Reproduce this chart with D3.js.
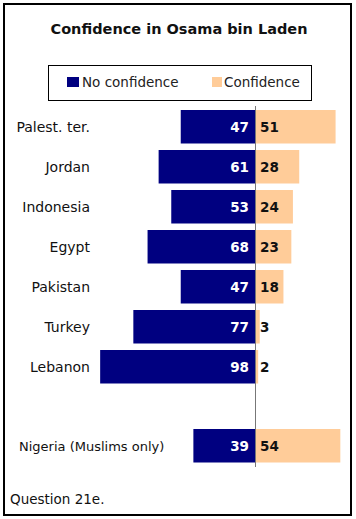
<!DOCTYPE html>
<html><head><meta charset="utf-8">
<script src="https://cdn.jsdelivr.net/npm/d3@7"></script>
<style>body{margin:0;background:#fff}svg{display:block}</style>
</head><body>
<script>
const categories = ["Palest. ter.","Jordan","Indonesia","Egypt","Pakistan","Turkey","Lebanon","","Nigeria (Muslims only)"];
const noConfidence = [47,61,53,68,47,77,98,null,39];
const confidence = [51,28,24,23,18,3,2,null,54];
const seriesNames = ["No confidence","Confidence"];
const colors = ["#000080","#FFCC99"];

const W=356,H=519;
const svg=d3.select("body").append("svg").attr("width",W).attr("height",H);
const font="DejaVu Sans, Verdana, sans-serif";
svg.append("rect").attr("x",4).attr("y",4).attr("width",347).attr("height",511)
  .attr("fill","#fff").attr("stroke","#000").attr("stroke-width",2);
svg.append("text").attr("x",179).attr("y",34).attr("text-anchor","middle")
  .attr("font-family",font).attr("font-weight","bold").attr("font-size",14.5).attr("fill","#111")
  .text("Confidence in Osama bin Laden");

// legend
const lg=svg.append("g");
lg.append("rect").attr("x",48.5).attr("y",65.5).attr("width",263).attr("height",35).attr("fill","none").attr("stroke","#000").attr("stroke-width",1);
const legX=[67,212], legTX=[82,224];
seriesNames.forEach((n,i)=>{
  lg.append("rect").attr("x",legX[i]).attr("y",77).attr("width",i?10:12).attr("height",10).attr("fill",colors[i]);
  lg.append("text").attr("x",legTX[i]).attr("y",87).attr("font-family",font).attr("font-size",13.5).attr("fill","#222").text(n);
});

const cx=255;
const x=d3.scaleLinear().domain([0,100]).range([0,158]);
const step=40, bh=33.5, top0=110;
const y=d3.scaleLinear().domain([0,1]).range([top0,top0+step]);
const yPos=i=>y(i) - (i===8?1:0);

const g=svg.append("g");
categories.forEach((c,i)=>{
  if(noConfidence[i]==null) return;
  const yy=yPos(i);
  g.append("rect").attr("x",cx-x(noConfidence[i])).attr("y",yy).attr("width",x(noConfidence[i])).attr("height",bh).attr("fill",colors[0]);
  g.append("rect").attr("x",cx).attr("y",yy).attr("width",x(confidence[i])).attr("height",bh).attr("fill",colors[1]);
  g.append("text").attr("x",cx-6).attr("y",yy+bh/2+5).attr("text-anchor","end").attr("font-family",font).attr("font-weight","bold").attr("font-size",13.5).attr("fill","#fff").text(noConfidence[i]);
  g.append("text").attr("x",cx+5).attr("y",yy+bh/2+5).attr("font-family",font).attr("font-weight","bold").attr("font-size",13.5).attr("fill","#111").text(confidence[i]);
  const isN=i===8;
  g.append("text").attr("x",isN?19:90).attr("y",yy+bh/2+5).attr("text-anchor",isN?"start":"end")
    .attr("font-family",font).attr("font-size",isN?13:14).attr("fill","#111").text(c);
});
svg.append("line").attr("x1",cx+0.5).attr("x2",cx+0.5).attr("y1",106).attr("y2",467).attr("stroke","#777").attr("stroke-width",1);

svg.append("text").attr("x",10).attr("y",504).attr("font-family",font).attr("font-size",13.5).attr("fill","#111").text("Question 21e.");
</script>
</body></html>
